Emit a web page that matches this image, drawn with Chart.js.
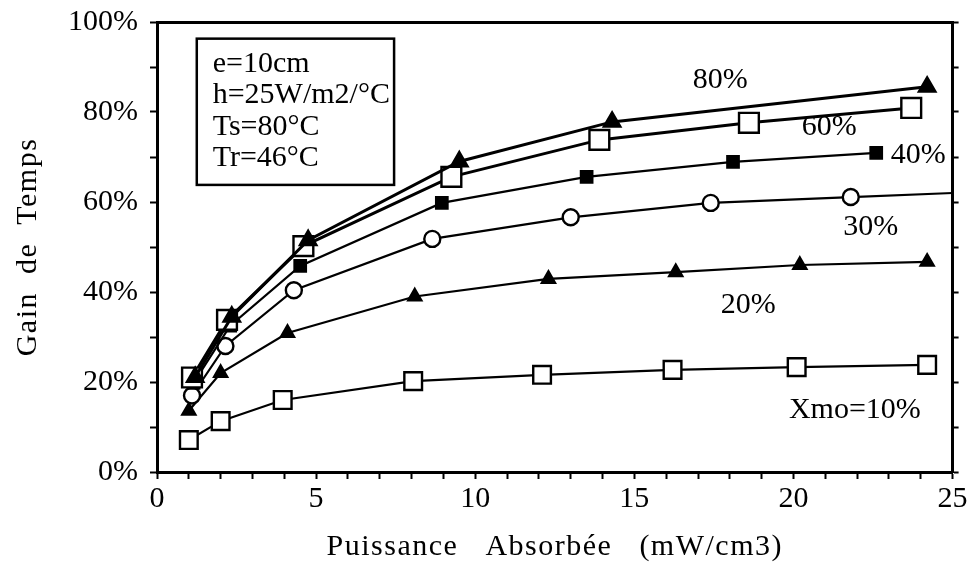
<!DOCTYPE html>
<html>
<head>
<meta charset="utf-8">
<script src="https://cdn.jsdelivr.net/npm/chart.js@4/dist/chart.umd.min.js"></script>
<style>
html,body{margin:0;padding:0;background:#fff;}
#wrap{width:969px;height:567px;}
</style>
</head>
<body>
<div id="wrap"><canvas id="c" width="969" height="567"></canvas></div>
<script>
// ---- Data ----
const X_10 = [1.0, 2.0, 3.95, 8.05, 12.1, 16.2, 20.1, 24.2];
const Y_10 = [7.1, 11.3, 16.0, 20.2, 21.6, 22.7, 23.3, 23.8];

const X_20 = [1.0, 2.0, 4.1, 8.1, 12.3, 16.3, 20.2, 24.2];
const Y_20 = [13.6, 22.0, 30.9, 39.0, 42.9, 44.4, 46.0, 46.7];

const X_30 = [1.1, 2.15, 4.3, 8.65, 13.0, 17.4, 21.8, 25.0];
const Y_30 = [17.0, 28.0, 40.4, 51.8, 56.6, 59.8, 61.1, 62.0];

const X_40 = [1.15, 2.3, 4.5, 8.95, 13.5, 18.1, 22.6];
const Y_40 = [19.8, 32.5, 45.8, 59.8, 65.6, 68.9, 70.9];

const X_60 = [1.1, 2.2, 4.6, 9.25, 13.9, 18.6, 23.7];
const Y_60 = [21.0, 33.8, 50.2, 65.6, 73.8, 77.6, 80.9];

const X_80 = [1.2, 2.35, 4.75, 9.5, 14.3, 24.2];
const Y_80 = [21.1, 34.5, 51.5, 69.0, 77.8, 85.6];

const SERIES_NAMES = ['Xmo=10%', '20%', '30%', '40%', '60%', '80%'];
const X_TICK_LABEL_STEP = 5;
const Y_TICK_LABEL_STEP = 20;
const BOX_LINES = ['e=10cm', 'h=25W/m2/°C', 'Ts=80°C', 'Tr=46°C'];
const X_TITLE = 'Puissance   Absorbée   (mW/cm3)';
const Y_TITLE = 'Gain  de  Temps';

// ---- Helpers ----
const pts = (xs, ys) => xs.map((x, i) => ({x: x, y: ys[i]}));
const FONT = '"Liberation Serif", "Times New Roman", serif';

function ds(label, xs, ys, style, opts) {
  return Object.assign({
    label: label,
    data: pts(xs, ys),
    showLine: true,
    borderColor: '#000',
    backgroundColor: '#000',
    borderWidth: 2.2,
    pointStyle: style,
    pointBorderColor: '#000',
    pointBorderWidth: 2.4,
    tension: 0,
    clip: false
  }, opts);
}

const datasets = [
  ds(SERIES_NAMES[5], X_80, Y_80, 'triangle', {pointRadius: 9.5, pointBackgroundColor: '#000', borderWidth: 3}),
  ds(SERIES_NAMES[4], X_60, Y_60, 'rect', {pointRadius: 14, pointBackgroundColor: '#fff', borderWidth: 3}),
  ds(SERIES_NAMES[3], X_40, Y_40, 'rect', {pointRadius: 8, pointBackgroundColor: '#000'}),
  ds(SERIES_NAMES[2], X_30, Y_30, 'circle', {
    pointRadius: (c) => c.dataIndex === X_30.length - 1 ? 0 : 8,
    pointBackgroundColor: '#fff'
  }),
  ds(SERIES_NAMES[1], X_20, Y_20, 'triangle', {pointRadius: 7.5, pointBackgroundColor: '#000'}),
  ds(SERIES_NAMES[0], X_10, Y_10, 'rect', {pointRadius: 12.5, pointBackgroundColor: '#fff'})
];

// annotation labels placed in data coordinates
const SERIES_LABELS = [
  {text: '80%', x: 17.70, y: 85.3, align: 'center'},
  {text: '60%', x: 21.12, y: 74.9, align: 'center'},
  {text: '40%', x: 23.06, y: 68.7, align: 'left'},
  {text: '30%', x: 22.43, y: 52.7, align: 'center'},
  {text: '20%', x: 18.58, y: 35.3, align: 'center'},
  {text: 'Xmo=10%', x: 21.93, y: 12.0, align: 'center'}
];

const LETTER = '0px';
const TITLE_LETTER = '1.5px';

const annotPlugin = {
  id: 'annot',
  beforeLayout(chart) { chart.ctx.letterSpacing = LETTER; },
  afterLayout(chart) {
    ['x', 'y'].forEach((id) => {
      const s = chart.scales[id];
      if (s && !s.__patched) {
        const orig = s.drawTitle;
        s.drawTitle = function () {
          const c = this.ctx;
          const prev = c.letterSpacing;
          c.letterSpacing = TITLE_LETTER;
          orig.apply(this, arguments);
          c.letterSpacing = prev;
        };
        s.__patched = true;
      }
    });
  },
  beforeDraw(chart) { chart.ctx.letterSpacing = LETTER; },
  afterDraw(chart) {
    const ctx = chart.ctx;
    const sx = chart.scales.x, sy = chart.scales.y;
    ctx.save();
    ctx.letterSpacing = LETTER;
    ctx.fillStyle = '#000';
    ctx.font = '30px ' + FONT;
    ctx.textBaseline = 'alphabetic';
    SERIES_LABELS.forEach((l) => {
      ctx.textAlign = l.align;
      ctx.fillText(l.text, sx.getPixelForValue(l.x), sy.getPixelForValue(l.y));
    });
    // parameter box
    const bx0 = sx.getPixelForValue(1.25), by0 = sy.getPixelForValue(96.3);
    const bx1 = sx.getPixelForValue(7.45), by1 = sy.getPixelForValue(63.8);
    ctx.fillStyle = '#fff';
    ctx.fillRect(bx0, by0, bx1 - bx0, by1 - by0);
    ctx.strokeStyle = '#000';
    ctx.lineWidth = 2.5;
    ctx.strokeRect(bx0, by0, bx1 - bx0, by1 - by0);
    ctx.fillStyle = '#000';
    ctx.textAlign = 'left';
    const tx = sx.getPixelForValue(1.75);
    BOX_LINES.forEach((t, i) => {
      ctx.fillText(t, tx, sy.getPixelForValue(88.9 - i * 6.95));
    });
    ctx.restore();
  }
};

const tickFont = {family: FONT, size: 30};
const titleFont = {family: FONT, size: 30};
const noPad = (s) => { s.paddingTop = 0; s.paddingBottom = 0; s.paddingLeft = 0; s.paddingRight = 0; };

new Chart(document.getElementById('c'), {
  type: 'scatter',
  data: {datasets: datasets},
  plugins: [annotPlugin],
  options: {
    responsive: false,
    animation: false,
    devicePixelRatio: 1,
    layout: {padding: 0},
    plugins: {legend: {display: false}, tooltip: {enabled: false}},
    scales: {
      x: {
        type: 'linear', position: 'bottom', min: 0, max: 25,
        afterFit: (s) => { s.height = 95; noPad(s); },
        ticks: {
          stepSize: 1, autoSkip: false, maxRotation: 0, padding: 2,
          color: '#000', font: tickFont,
          callback: (v) => (v % X_TICK_LABEL_STEP === 0 ? String(v) : '')
        },
        grid: {display: true, drawOnChartArea: false, drawTicks: true, tickLength: 7, tickWidth: 2, tickColor: '#000'},
        border: {display: true, color: '#000', width: 3},
        title: {display: true, text: X_TITLE, color: '#000', font: titleFont, padding: {top: 0, bottom: 2}}
      },
      y: {
        type: 'linear', position: 'left', min: 0, max: 100,
        afterFit: (s) => { s.width = 157; noPad(s); },
        ticks: {
          stepSize: 10, autoSkip: false, padding: 12,
          color: '#000', font: tickFont,
          callback: (v) => (v % Y_TICK_LABEL_STEP === 0 ? v + '%' : '')
        },
        grid: {display: true, drawOnChartArea: false, drawTicks: true, tickLength: 7, tickWidth: 2, tickColor: '#000'},
        border: {display: true, color: '#000', width: 3},
        title: {display: true, text: Y_TITLE, color: '#000', font: titleFont, padding: {top: 10, bottom: 0}}
      },
      x2: {
        type: 'linear', position: 'top', min: 0, max: 25,
        afterFit: (s) => { s.height = 22; noPad(s); },
        ticks: {display: false},
        grid: {display: true, drawOnChartArea: false, drawTicks: false},
        border: {display: true, color: '#000', width: 3}
      },
      y2: {
        type: 'linear', position: 'right', min: 0, max: 100,
        afterFit: (s) => { s.width = 14; noPad(s); },
        ticks: {display: false, stepSize: 10},
        grid: {display: true, drawOnChartArea: false, drawTicks: true, tickLength: 6, tickWidth: 2, tickColor: '#000'},
        border: {display: true, color: '#000', width: 3}
      }
    }
  }
});
</script>
</body>
</html>
